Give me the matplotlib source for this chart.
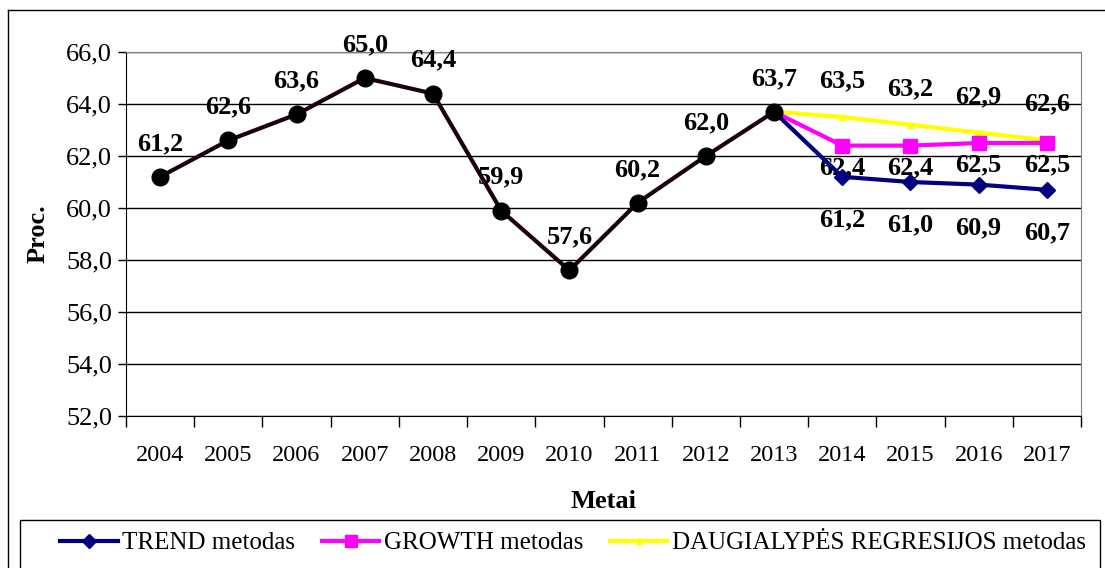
import matplotlib.pyplot as plt
from matplotlib.lines import Line2D
from matplotlib.patches import Rectangle
from matplotlib.ticker import FixedLocator, FuncFormatter

plt.rcParams['font.family'] = ['Liberation Serif', 'DejaVu Serif']

years = [str(y) for y in range(2004, 2018)]
actual = [61.2, 62.6, 63.6, 65.0, 64.4, 59.9, 57.6, 60.2, 62.0, 63.7]
trend = [61.2, 61.0, 60.9, 60.7]
growth = [62.4, 62.4, 62.5, 62.5]
regres = [63.5, 63.2, 62.9, 62.6]

def fmt(v):
    return f"{v:.1f}".replace(".", ",")

fig = plt.figure(figsize=(11.05, 5.68), dpi=100)
ax = fig.add_axes([126/1105, 1 - 416/568, 955/1105, 364/568])

xa = list(range(len(actual)))
xf = list(range(len(actual) - 1, len(years)))
last = actual[-1]

# forecast series start from the last actual point
ax.plot(xf, [last] + regres, color='#ffff00', lw=3, marker='^', ms=5,
        markevery=list(range(1, 5)), zorder=3)
ax.plot(xf, [last] + growth, color='#ff00ff', lw=3, marker='s', ms=10,
        markevery=list(range(1, 5)), zorder=4)
ax.plot(xf, [last] + trend, color='#000080', lw=3, marker='D', ms=8,
        markevery=list(range(1, 5)), zorder=5)
# historical values under the forecasts
ax.plot(xa, actual, color='#1a0010', lw=3, marker='o', ms=12,
        mfc='black', mec='black', zorder=6)

lab = dict(ha='center', va='center', fontsize=19, fontweight='bold',
           textcoords='offset points')
for x, v in zip(xa, actual):
    ax.annotate(fmt(v), (x, v), xytext=(0, 24), **lab)
for i, x in enumerate(xf[1:]):
    ax.annotate(fmt(trend[i]), (x, trend[i]), xytext=(0, -31), **lab)
    ax.annotate(fmt(growth[i]), (x, growth[i]), xytext=(0, -16), **lab)
    ax.annotate(fmt(regres[i]), (x, regres[i]), xytext=(0, 26), **lab)

ax.set_ylim(52, 66)
ax.set_xlim(-0.5, len(years) - 0.5)
ax.set_yticks(range(52, 67, 2))
ax.yaxis.set_major_formatter(FuncFormatter(lambda v, p: fmt(v)))
ax.tick_params(axis='y', labelsize=19, length=6, width=1, pad=4)
ax.yaxis.grid(True, color='black', lw=1)
ax.set_axisbelow(True)

ax.xaxis.set_major_locator(FixedLocator([i - 0.5 for i in range(len(years) + 1)]))
ax.xaxis.set_minor_locator(FixedLocator(range(len(years))))
ax.set_xticklabels([])
ax.set_xticklabels(years, minor=True)
ax.tick_params(axis='x', which='major', length=8, width=1)
ax.tick_params(axis='x', which='minor', length=0, labelsize=17.5, pad=21)

for s in ['top', 'right']:
    ax.spines[s].set_color('#808080')
ax.spines['left'].set_color('black')
ax.spines['bottom'].set_color('black')

ax.set_ylabel('Proc.', fontsize=19, fontweight='bold', labelpad=12)
ax.set_xlabel('Metai', fontsize=19, fontweight='bold', labelpad=17)

handles = [
    Line2D([], [], color='#000080', lw=3, marker='D', ms=7),
    Line2D([], [], color='#ff00ff', lw=3, marker='s', ms=9),
    Line2D([], [], color='#ffff00', lw=3, marker='^', ms=4),
]
labels = ['TREND metodas', 'GROWTH metodas', 'DAUGIALYPĖS REGRESIJOS metodas']
fig.legend(handles, labels, loc='center left', ncol=3,
           bbox_to_anchor=(60/1105, 1 - 543/568), fontsize=18,
           frameon=False, handlelength=2.3, handletextpad=0.2,
           columnspacing=1.05, borderpad=0, borderaxespad=0)

# legend box and outer chart border
fig.add_artist(Rectangle((20/1105, -0.05), 1080/1105, 0.05 + 1 - 520/568,
                         transform=fig.transFigure, fill=False,
                         edgecolor='black', lw=1))
fig.add_artist(Line2D([8/1105, 8/1105], [0, 1 - 10/568], color='black', lw=1))
fig.add_artist(Line2D([8/1105, 1], [1 - 10/568, 1 - 10/568], color='black', lw=1))

fig.savefig('out.png', dpi=100)
